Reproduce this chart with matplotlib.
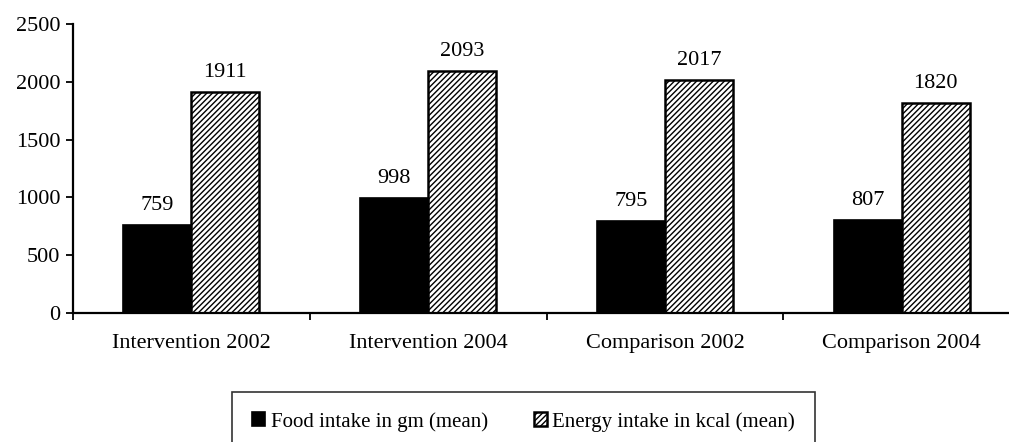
import matplotlib
matplotlib.use("Agg")
import matplotlib.pyplot as plt
import numpy as np

categories = ["Intervention 2002", "Intervention 2004", "Comparison 2002", "Comparison 2004"]
food = [759, 998, 795, 807]
energy = [1911, 2093, 2017, 1820]
series_names = ["Food intake in gm (mean)", "Energy intake in kcal (mean)"]
yticks = [0, 500, 1000, 1500, 2000, 2500]

plt.rcParams['font.family'] = ['Liberation Serif', 'DejaVu Serif']
plt.rcParams['hatch.linewidth'] = 1.0

fig = plt.figure(figsize=(10.09, 4.42), dpi=100)
ax = fig.add_axes([73/1009, 1-313/442, (1020-73)/1009, (313-24)/442])

x = np.arange(len(categories))
w = 0.287
b1 = ax.bar(x - w/2, food, width=w, color='black', edgecolor='black', linewidth=1.2,
            label=series_names[0])
b2 = ax.bar(x + w/2, energy, width=w, color='white', edgecolor='black', linewidth=1.8,
            hatch='//////', label=series_names[1])

fs = 16
for xi, v in zip(x, food):
    ax.text(xi - w/2, v + 130, str(v), ha='center', va='baseline', fontsize=fs)
for xi, v in zip(x, energy):
    ax.text(xi + w/2, v + 130, str(v), ha='center', va='baseline', fontsize=fs)

ax.set_xlim(-0.5, len(categories) - 0.5)
ax.set_ylim(0, 2500)
ax.set_yticks(yticks)
ax.set_yticklabels([str(t) for t in yticks], fontsize=fs)
ax.set_xticks(x)
ax.set_xticklabels(categories, fontsize=fs)
ax.tick_params(axis='x', which='major', length=0, pad=15)
ax.set_xticks(np.arange(-0.5, len(categories), 1.0), minor=True)
ax.tick_params(axis='x', which='minor', length=5, width=1.3, direction='out')
ax.tick_params(axis='y', length=5, width=1.3, direction='out', pad=4)
for s in ['top', 'right']:
    ax.spines[s].set_visible(False)
for s in ['left', 'bottom']:
    ax.spines[s].set_linewidth(1.6)

leg = fig.legend(handles=[b1, b2], loc='upper left', bbox_to_anchor=(232/1009, 1-392/442),
                 ncol=2, fontsize=15, frameon=True, fancybox=False, edgecolor='black',
                 handlelength=0.65, handleheight=0.65, handletextpad=0.25, columnspacing=2.2,
                 borderpad=0.95, borderaxespad=0)
leg.get_frame().set_linewidth(1.2)

fig.savefig("out.png", dpi=100)
